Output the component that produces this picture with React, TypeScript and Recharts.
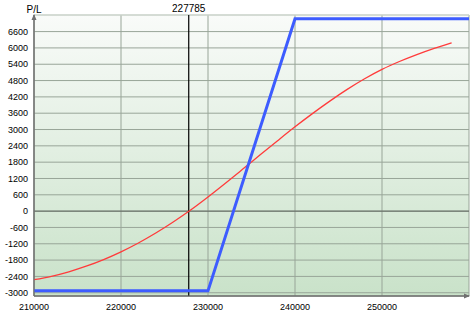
import { LineChart, Line, XAxis, YAxis, CartesianGrid, ReferenceLine } from 'recharts';

// underlying price ticks and P/L ticks
const xTicks = [210000, 220000, 230000, 240000, 250000];
const yTicks = [-3000, -2400, -1800, -1200, -600, 0, 600, 1200, 1800, 2400, 3000, 3600, 4200, 4800, 5400, 6000, 6600];
const breakeven = 227785;

// P/L at expiration (blue)
const expiryPrices = [210000, 230000, 240000, 260000];
const expiryPL = [-2930, -2930, 7070, 7070];

// P/L today (red)
const todayPrices = [
  210000, 212000, 214000, 216000, 218000, 220000, 222000, 224000, 226000, 228000,
  230000, 232000, 234000, 236000, 238000, 240000, 242000, 244000, 246000, 248000,
  250000, 252000, 254000, 256000, 258000,
];
const todayPL = [
  -2520, -2395, -2230, -2025, -1780, -1495, -1170, -805, -400, 40,
  520, 1025, 1545, 2070, 2590, 3100, 3585, 4045, 4475, 4865,
  5210, 5500, 5755, 5985, 6190,
];

const expiryData = expiryPrices.map((x, i) => ({ x, pl: expiryPL[i] }));
const todayData = todayPrices.map((x, i) => ({ x, pl: todayPL[i] }));

const font = { fontFamily: '"Liberation Sans", Arial, sans-serif', fontSize: 9, fill: '#000' };

// y axis arrowhead + "P/L" caption above the axis
const YAxisCap = (props: any) => {
  const { x, y } = props.viewBox;
  return (
    <g>
      <polygon points={`${x - 2.5},${y + 5} ${x + 2.5},${y + 5} ${x},${y - 1}`} fill="#707070" />
      <text x={x} y={y - 2} textAnchor="middle" style={{ ...font, fontSize: 10 }}>P/L</text>
    </g>
  );
};

// x axis arrowhead at the right end
const XAxisCap = (props: any) => {
  const { x, y, width } = props.viewBox;
  const ex = x + width;
  return <polygon points={`${ex - 5},${y - 2.5} ${ex - 5},${y + 2.5} ${ex + 1},${y}`} fill="#707070" />;
};

const BreakevenLabel = (props: any) => {
  const { x, y } = props.viewBox;
  return (
    <text x={x} y={y - 3} textAnchor="middle" style={{ ...font, fontSize: 10 }}>
      {breakeven}
    </text>
  );
};

export default function App() {
  return (
    <div style={{ position: 'absolute', left: 0, top: 0, width: 474, height: 315, background: '#fff' }}>
      <LineChart width={474} height={315} margin={{ top: 15, right: 5, left: 0, bottom: 0 }}>
        <defs>
          <linearGradient id="bg" x1="0" y1="0" x2="0" y2="1">
            <stop offset="0%" stopColor="#f9fbf9" />
            <stop offset="100%" stopColor="#c9e2c9" />
          </linearGradient>
        </defs>
        <CartesianGrid stroke="#98a598" fill="url(#bg)" fillOpacity={1} />
        <XAxis
          type="number"
          dataKey="x"
          domain={[210000, 260000]}
          ticks={xTicks}
          allowDataOverflow
          height={19}
          tickLine={false}
          tickSize={4}
          tickMargin={4}
          axisLine={{ stroke: '#707070' }}
          tick={font}
          interval={0}
        />
        <YAxis
          type="number"
          domain={[-3120, 7210]}
          ticks={yTicks}
          allowDataOverflow
          width={34}
          tickLine={false}
          tickSize={4}
          tickMargin={2}
          axisLine={{ stroke: '#707070' }}
          tick={font}
          interval={0}
        />
        <ReferenceLine y={7210} stroke="#dfe6df" />
        <ReferenceLine y={0} stroke="#5f665f" />
        <ReferenceLine x={210000} stroke="#707070" label={<YAxisCap />} />
        <ReferenceLine y={-3120} stroke="#707070" label={<XAxisCap />} />
        <ReferenceLine x={breakeven} stroke="#000" strokeWidth={1.2} label={<BreakevenLabel />} />
        <Line
          data={todayData}
          dataKey="pl"
          type="monotone"
          stroke="#ff3b3b"
          strokeWidth={1.3}
          dot={false}
          isAnimationActive={false}
        />
        <Line
          data={expiryData}
          dataKey="pl"
          type="linear"
          stroke="#3d5cff"
          strokeWidth={3}
          dot={false}
          isAnimationActive={false}
        />
      </LineChart>
    </div>
  );
}
